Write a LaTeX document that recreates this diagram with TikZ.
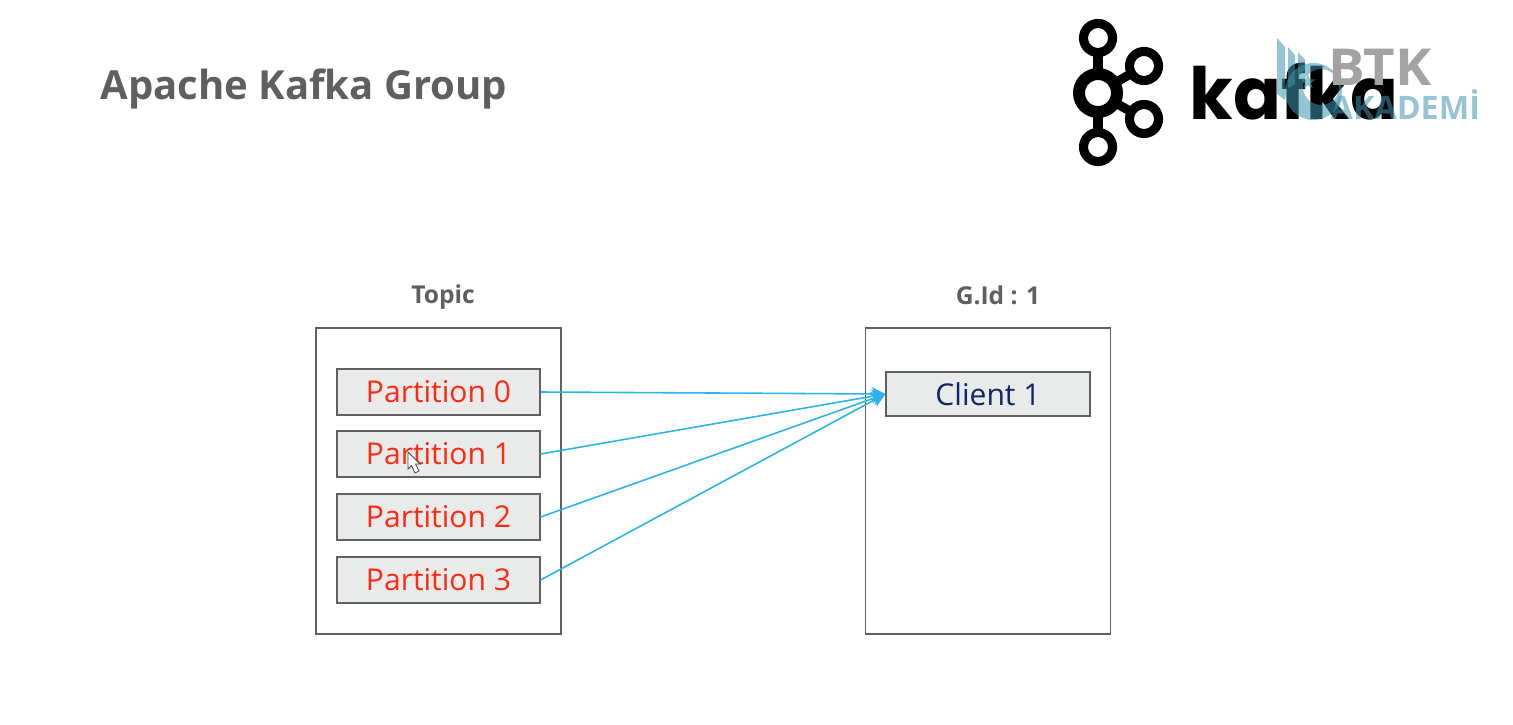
\documentclass[tikz,border=0pt]{standalone}
\usepackage{fontspec}
\setmainfont{Open Sans}
\newfontfamily\logofont[FakeStretch=0.98]{Poppins}
\newfontfamily\btkfont[FakeStretch=1.07]{Open Sans}
\usepackage{xcolor}
\usepackage{tikz}
\usetikzlibrary{
  arrows.meta,
  positioning,
  shapes.geometric
}
\definecolor{titlegray}{HTML}{5F5F5F}
\definecolor{partred}{HTML}{FF2A12}
\definecolor{clientblue}{HTML}{14266B}
\definecolor{boxfill}{HTML}{E9EAEA}
\definecolor{boxline}{HTML}{606060}
\definecolor{linkblue}{HTML}{2BB3EC}
\definecolor{btkteal}{HTML}{3E96AE}
\definecolor{btkgray}{HTML}{A3A3A3}

\begin{document}
\begin{tikzpicture}[
  groupB/.style={
    draw=boxline, line width=0.3pt, minimum width=2.45cm, minimum height=3.06cm,
    inner sep=0pt,
  },
  partB/.style={
    draw=boxline, line width=0.3pt, minimum width=2.03cm, minimum height=0.46cm,
    inner sep=0pt, font=\fontsize{8.55}{10}\selectfont, fill=boxfill, text=partred,
  },
  clientB/.style={
    partB, minimum width=2.04cm, minimum height=0.44cm, text=clientblue,
  },
  headT/.style={
    font=\fontsize{7.0}{8}\selectfont\bfseries, text=titlegray,
  },
  link/.style={
    draw=linkblue, line width=0.45pt, -{Stealth[length=4pt,width=4pt]},
  },
  ring/.style={
    draw=black, line width=2.6pt,
  },
]
\useasboundingbox (0,0) rectangle (15.13,7.24);

% Title
\node[font=\fontsize{11.4}{14}\selectfont\bfseries, text=titlegray, anchor=west] (title) at (0.88,6.35) {Apache Kafka Group};

% Left side - Topic
\node[groupB] (topic) at (4.385,2.43) {};
\node[headT] (topicL) at (4.43,4.27) {Topic};
\node[partB] (p0) at (4.385,3.32) {Partition 0};
\node[partB] (p1) at (4.385,2.70) {Partition 1};
\node[partB] (p2) at (4.385,2.07) {Partition 2};
\node[partB] (p3) at (4.385,1.44) {Partition 3};

% Right side - Group
\node[groupB] (group) at (9.88,2.43) {};
\node[headT] (groupL) at (9.98,4.29) {G.Id : 1};
\node[clientB] (c1) at (9.88,3.30) {Client 1};

% Links
\foreach \i in {0,1,2,3} {
  \draw[link] (p\i.east) -- (c1.west);
}

% Mouse cursor
\draw[draw=black!70, fill=white, line width=0.25pt] (4.08,2.72) -- (4.08,2.55) -- (4.115,2.585) -- (4.15,2.51) -- (4.19,2.53) -- (4.155,2.60) -- (4.20,2.60) -- cycle;

% Kafka logo
\draw[black, line width=2.6pt] (10.98,6.86) -- (10.98,5.77);
\draw[black, line width=2.6pt] (10.98,6.31) -- (11.44,6.58);
\draw[black, line width=2.6pt] (10.98,6.31) -- (11.44,6.05);
\draw[ring, fill=white, line width=3.4pt] (10.98,6.31) circle (0.19);
\draw[ring, fill=white] (10.98,6.86) circle (0.145);
\draw[ring, fill=white] (10.98,5.77) circle (0.145);
\draw[ring, fill=white] (11.44,6.58) circle (0.145);
\draw[ring, fill=white] (11.44,6.05) circle (0.145);
\node[font=\fontsize{20.5}{24}\logofont\bfseries, anchor=base west, inner sep=0pt] (kafka) at (11.89,6.04) {kafka};

% Watermark
\fill[btkteal, opacity=0.55] (12.77,6.86) -- (12.85,6.77) -- (12.85,6.24) -- (12.77,6.30) -- cycle;
\fill[btkteal, opacity=0.55] (12.88,6.77) -- (12.95,6.69) -- (12.95,6.40) -- (12.88,6.36) -- cycle;
\fill[btkteal, opacity=0.55] (12.98,6.72) -- (13.05,6.64) -- (13.05,6.55) -- (12.98,6.48) -- cycle;
\fill[btkteal, opacity=0.55, even odd rule] (13.135,6.325) circle (0.285) (13.21,6.37) circle (0.18);
\node[star, star points=5, star point ratio=2.4, fill=btkteal, opacity=0.55, inner sep=0pt, minimum size=0.16cm] (btkstar) at (13.08,6.42) {};
\node[font=\fontsize{14.5}{17}\btkfont\bfseries, text=btkgray, anchor=base west, inner sep=0pt] (btk) at (13.28,6.38) {BTK};
\node[font=\fontsize{9.2}{11}\selectfont\bfseries, text=btkteal, opacity=0.55, anchor=base west, inner sep=0pt] (akademi) at (13.30,6.04) {AKADEMİ};
\end{tikzpicture}
\end{document}
